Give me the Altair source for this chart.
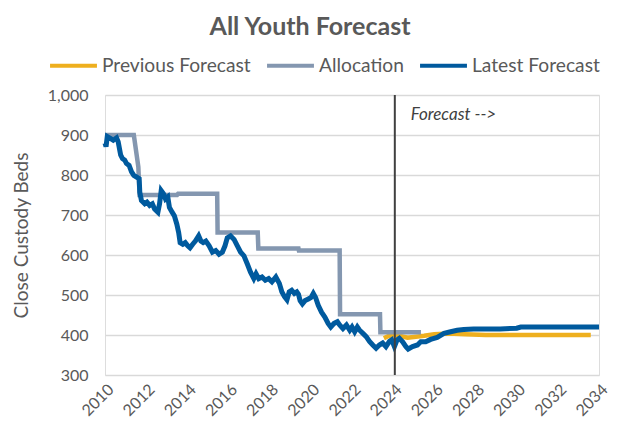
import altair as alt
import pandas as pd

# ---- data ----
latest_year = [2010.0, 2010.05, 2010.11, 2010.24, 2010.40, 2010.56, 2010.64, 2010.76, 2010.85, 2010.96,
               2011.04, 2011.17, 2011.29, 2011.40, 2011.53, 2011.66, 2011.69, 2011.77, 2011.93, 2012.04,
               2012.17, 2012.30, 2012.41, 2012.57, 2012.65, 2012.73, 2012.84, 2012.94, 2013.05, 2013.13,
               2013.26, 2013.37, 2013.49, 2013.58, 2013.65, 2013.78, 2013.90, 2014.02, 2014.13, 2014.26,
               2014.39, 2014.55, 2014.66, 2014.77, 2014.90, 2015.06, 2015.22, 2015.38, 2015.54, 2015.70,
               2015.83, 2015.94, 2016.10, 2016.27, 2016.43, 2016.59, 2016.75, 2016.91, 2017.07, 2017.23,
               2017.34, 2017.47, 2017.63, 2017.79, 2017.95, 2018.11, 2018.30, 2018.47, 2018.59, 2018.72,
               2018.84, 2018.95, 2019.07, 2019.20, 2019.32, 2019.40, 2019.48, 2019.59, 2019.72, 2019.88,
               2020.01, 2020.12, 2020.23, 2020.36, 2020.52, 2020.68, 2020.84, 2020.97, 2021.13, 2021.29,
               2021.40, 2021.56, 2021.73, 2021.89, 2022.00, 2022.13, 2022.26, 2022.37, 2022.53, 2022.69,
               2022.85, 2023.01, 2023.17, 2023.33, 2023.49, 2023.65, 2023.82, 2023.93, 2024.06, 2024.19,
               2024.30, 2024.46, 2024.62, 2024.73, 2024.94, 2025.18, 2025.34, 2025.58, 2025.82, 2026.14,
               2026.47, 2026.79, 2027.11, 2027.43, 2027.91, 2028.60, 2029.20, 2030.00, 2030.20, 2031.50,
               2033.00, 2034.00]
latest_beds = [880, 871, 896, 892, 887, 893, 883, 850, 841, 837,
               829, 824, 808, 799, 795, 791, 757, 736, 728, 732,
               724, 728, 715, 707, 728, 761, 753, 740, 745, 719,
               707, 698, 677, 656, 631, 627, 631, 623, 618, 627,
               635, 648, 635, 631, 635, 623, 607, 611, 602, 607,
               623, 643, 648, 639, 623, 607, 598, 578, 557, 541,
               553, 541, 545, 537, 541, 533, 545, 529, 508, 496,
               488, 508, 512, 504, 508, 502, 486, 478, 486, 490,
               494, 504, 494, 474, 457, 445, 429, 420, 429, 433,
               425, 416, 425, 412, 420, 408, 420, 412, 404, 396,
               384, 375, 367, 375, 380, 371, 384, 388, 371, 388,
               392, 383, 371, 365, 371, 375, 383, 383, 389, 394,
               404, 408, 412, 414, 415, 415, 415, 417, 420, 420,
               420, 420]

alloc_year = [2010.0, 2011.40, 2011.62, 2011.68, 2013.50, 2013.55, 2015.45, 2015.47,
              2017.42, 2017.45, 2019.40, 2019.42, 2021.40, 2021.42, 2023.36, 2023.38, 2025.35]
alloc_beds = [900, 900, 820, 750, 750, 753, 753, 656,
              656, 616, 616, 611, 611, 452, 452, 407, 407]

prev_year = [2023.55, 2023.80, 2024.10, 2024.40, 2024.70, 2025.00, 2025.50, 2026.00,
             2026.70, 2027.50, 2028.50, 2033.60]
prev_beds = [392, 398, 400, 397, 393, 395, 398, 402, 404, 402, 400, 400]

series_names = ["Previous Forecast", "Allocation", "Latest Forecast"]
series_colors = ["#EEAF1E", "#8497B0", "#005A9E"]
x_ticks = list(range(2010, 2035, 2))
y_ticks = list(range(300, 1001, 100))
forecast_start = 2024.08

FONT = "Lato"
GREY = "#595959"

prev_df = pd.DataFrame({"year": prev_year, "beds": prev_beds, "series": series_names[0]})
alloc_df = pd.DataFrame({"year": alloc_year, "beds": alloc_beds, "series": series_names[1]})
latest_df = pd.DataFrame({"year": latest_year, "beds": latest_beds, "series": series_names[2]})

color = alt.Color(
    "series:N",
    scale=alt.Scale(domain=series_names, range=series_colors),
    legend=alt.Legend(
        title=None, orient="none", direction="horizontal",
        legendX=-57, legendY=-55,
        symbolType="stroke", symbolSize=2200, symbolStrokeWidth=4,
        labelFont=FONT, labelFontSize=19.2, labelColor=GREY,
        labelOffset=3, columnPadding=8,
    ),
)

x_enc = alt.X(
    "year:Q",
    scale=alt.Scale(domain=[2010, 2034], nice=False, zero=False),
    axis=alt.Axis(
        title=None, values=x_ticks, format="d", labelAngle=-45,
        labelFont=FONT, labelFontSize=16, labelColor=GREY, labelOverlap=False,
        grid=False, ticks=False, domain=False, labelPadding=6,
    ),
)
y_enc = alt.Y(
    "beds:Q",
    scale=alt.Scale(domain=[300, 1000], nice=False, zero=False),
    axis=alt.Axis(
        title="Close Custody Beds", values=y_ticks, format=",d",
        labelFont=FONT, labelFontSize=16, labelColor=GREY, labelOverlap=False,
        titleFont=FONT, titleFontSize=19, titleColor=GREY, titleFontWeight="normal",
        titlePadding=16, labelPadding=17,
        grid=True, gridColor="#D9D9D9", gridWidth=1.3,
        ticks=False, domain=False,
    ),
)

prev_line = alt.Chart(prev_df).mark_line(strokeWidth=4.5).encode(x=x_enc, y=y_enc, color=color)
alloc_line = alt.Chart(alloc_df).mark_line(strokeWidth=4.5).encode(x=x_enc, y=y_enc, color=color)
latest_line = alt.Chart(latest_df).mark_line(strokeWidth=5).encode(x=x_enc, y=y_enc, color=color)

rule_df = pd.DataFrame({"year": [forecast_start]})
rule = alt.Chart(rule_df).mark_rule(color="#404040", strokeWidth=2).encode(x=x_enc)

label_df = pd.DataFrame({"year": [2024.85], "beds": [950], "text": ["Forecast -->"]})
label = alt.Chart(label_df).mark_text(
    align="left", baseline="middle", font=FONT, fontSize=17, fontStyle="italic", color="#404040"
).encode(x=x_enc, y=y_enc, text="text:N")

chart = alt.layer(prev_line, alloc_line, latest_line, rule, label).properties(
    width=494,
    height=280,
    title=alt.TitleParams(
        "All Youth Forecast", font=FONT, fontSize=25, fontWeight="bold", color=GREY,
        anchor="middle", dx=-42, offset=0,
    ),
    autosize=alt.AutoSizeParams(type="none"),
    padding={"left": 97, "top": 87, "right": 11, "bottom": 48},
).configure_view(stroke=None).configure(background="white")

chart.save("out.html", embed_options={"renderer": "svg", "actions": False})
